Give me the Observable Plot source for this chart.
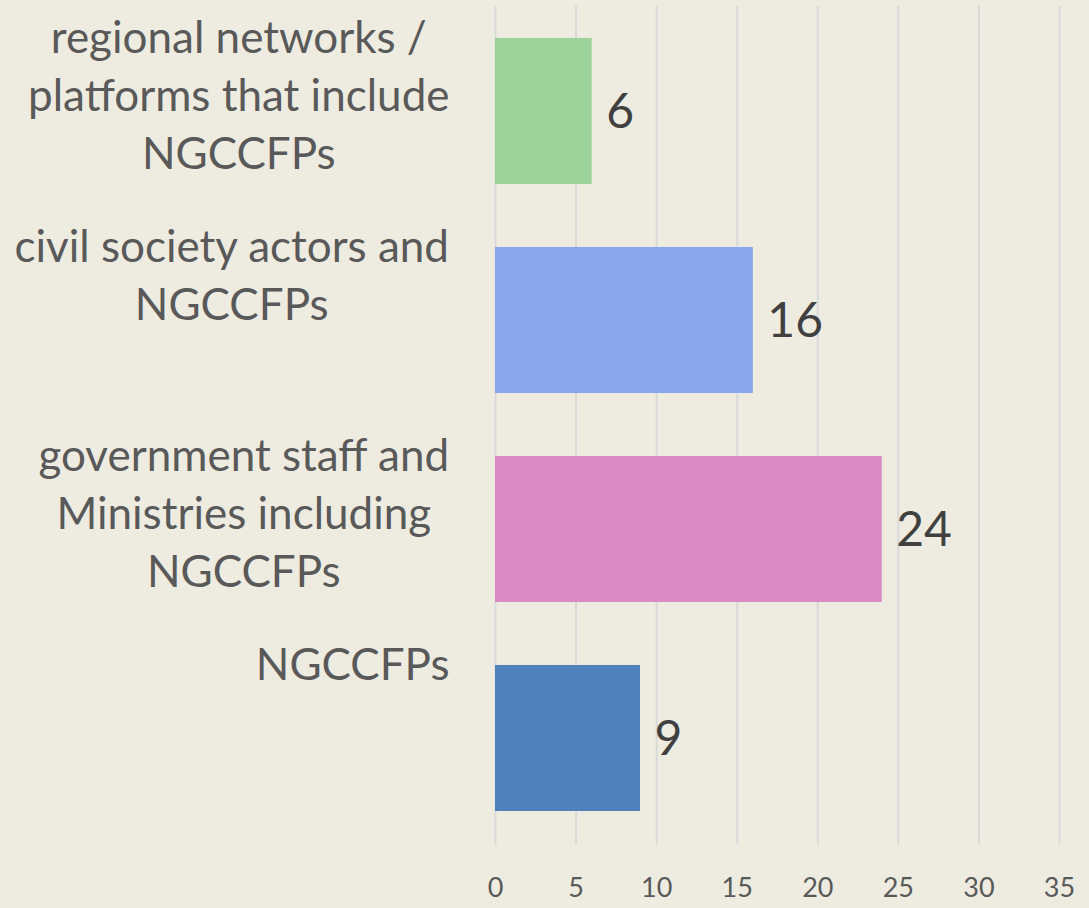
<!DOCTYPE html>
<html>
<head>
<meta charset="utf-8">
<script src="https://cdn.jsdelivr.net/npm/d3@7"></script>
<script src="https://cdn.jsdelivr.net/npm/@observablehq/plot@0.6"></script>
<style>
  html, body { margin: 0; padding: 0; background: #EEECE1; }
  #chart { width: 1089px; height: 908px; }
</style>
</head>
<body>
<div id="chart"></div>
<script>
const categories = [
  "regional networks /\nplatforms that include\nNGCCFPs",
  "civil society actors and\nNGCCFPs",
  "government staff and\nMinistries including\nNGCCFPs",
  "NGCCFPs"
];
const values = [6, 16, 24, 9];
const barColors = ["#9DD29A", "#8AA7EE", "#DA8BC4", "#4F81BD"];
const xTicks = [0, 5, 10, 15, 20, 25, 30, 35];

const data = categories.map((c, i) => ({cat: c, value: values[i], color: barColors[i]}));

const labelFont = 44;
const ctx = document.createElement("canvas").getContext("2d");
ctx.font = `${labelFont}px Lato`;

const labelMarks = categories.map(c => {
  const w = Math.max(...c.split("\n").map(l => ctx.measureText(l).width));
  return Plot.text([c], {
    y: d => d, text: d => d,
    frameAnchor: "left", textAnchor: "middle", lineAnchor: "top",
    lineHeight: 58 / labelFont,
    dx: -(46 + w / 2), dy: -99.5,
    fontSize: labelFont, fill: "#595959"
  });
});

const chart = Plot.plot({
  width: 1089, height: 908,
  marginLeft: 495, marginRight: 30, marginTop: 5.5, marginBottom: 63.5,
  style: {background: "#EEECE1", fontFamily: "Lato, sans-serif", color: "#595959", overflow: "visible"},
  x: {domain: [0, 35], ticks: xTicks, axis: null},
  y: {domain: categories, paddingInner: 0.3, paddingOuter: 0.15, axis: null},
  color: {type: "identity"},
  marks: [
    Plot.gridX(xTicks, {stroke: "#D9D9D9", strokeOpacity: 1, strokeWidth: 2}),
    Plot.barX(data, {x: "value", y: "cat", fill: "color"}),
    Plot.text(data, {x: "value", y: "cat", text: d => String(d.value), textAnchor: "start", dx: 14, dy: 1, fontSize: 48, fill: "#404040"}),
    Plot.axisX({ticks: xTicks, tickSize: 0, tickPadding: 33, fontSize: 27, fill: "#595959", label: null}),
    ...labelMarks
  ]
});
document.getElementById("chart").appendChild(chart);
</script>
</body>
</html>
